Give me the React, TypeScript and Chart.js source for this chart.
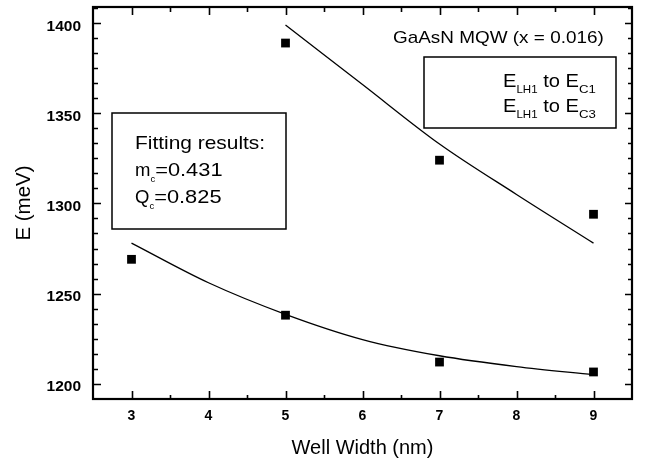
import React, { useEffect, useRef } from 'react';
import { Chart, registerables } from 'chart.js';

Chart.register(...registerables);

// ---- data ----
const WIDTH_C1 = [3, 5, 7, 9];
const ENERGY_C1 = [1269, 1238, 1212, 1206.5];
const WIDTH_C3 = [5, 7, 9];
const ENERGY_C3 = [1389, 1324, 1294];
const FIT_WIDTH_C1 = [3, 4, 5, 6, 7, 8, 9];
const FIT_ENERGY_C1 = [1278, 1256, 1238.5, 1224.5, 1215.5, 1209.5, 1205];
const FIT_WIDTH_C3 = [5, 6, 7, 8, 9];
const FIT_ENERGY_C3 = [1399, 1366, 1333, 1305, 1278];
const X_TICKS = [3, 4, 5, 6, 7, 8, 9];
const Y_TICKS = [1200, 1250, 1300, 1350, 1400];
const X_MINOR_STEP = 0.5;
const Y_MINOR_STEP = 50 / 6;

const FONT = "Arial, 'Liberation Sans', Helvetica, sans-serif";

function drawText(ctx: CanvasRenderingContext2D, s: string, x: number, y: number, size: number, sx = 1.15, weight = 'normal'): number {
  ctx.save();
  ctx.translate(x, y);
  ctx.scale(sx, 1);
  ctx.font = `${weight} ${size}px ${FONT}`;
  ctx.textAlign = 'left';
  ctx.textBaseline = 'alphabetic';
  ctx.fillStyle = '#000';
  ctx.fillText(s, 0, 0);
  const w = ctx.measureText(s).width * sx;
  ctx.restore();
  return w;
}

const framePlugin = {
  id: 'frameTicksAnnotations',
  afterDraw(chart: any) {
    const ctx: CanvasRenderingContext2D = chart.ctx;
    const { left, right, top, bottom } = chart.chartArea;
    const xs = chart.scales.x;
    const ys = chart.scales.y;
    ctx.save();
    ctx.strokeStyle = '#000';
    // ticks
    ctx.lineWidth = 1.6;
    ctx.beginPath();
    for (let v = xs.min; v <= xs.max + 1e-9; v += X_MINOR_STEP) {
      const px = Math.round(xs.getPixelForValue(v)) + 0.5;
      if (px <= left + 1 || px >= right - 1) continue;
      const major = Math.abs(v - Math.round(v)) < 1e-6;
      ctx.moveTo(px, bottom); ctx.lineTo(px, bottom - (major ? 8 : 4));
      ctx.moveTo(px, top); ctx.lineTo(px, top + (major ? 8 : 5));
    }
    const start = Math.ceil((ys.min - Y_TICKS[0]) / Y_MINOR_STEP);
    for (let k = start; ; k++) {
      const v = Y_TICKS[0] + k * Y_MINOR_STEP;
      if (v > ys.max) break;
      const py = Math.round(ys.getPixelForValue(v)) + 0.5;
      if (py <= top + 1 || py >= bottom - 1) continue;
      const major = k % 6 === 0;
      ctx.moveTo(left, py); ctx.lineTo(left + (major ? 8 : 5), py);
      ctx.moveTo(right, py); ctx.lineTo(right - (major ? 7 : 4), py);
    }
    ctx.stroke();
    // frame
    ctx.lineWidth = 2.2;
    ctx.strokeRect(left, top, right - left, bottom - top);

    // title annotation
    drawText(ctx, 'GaAsN MQW (x = 0.016)', 393, 43, 16.6, 1.14);

    // legend box
    ctx.lineWidth = 1.5;
    ctx.strokeRect(424, 57, 192, 71);
    const legendLines: [string, string][] = [['LH1', 'C1'], ['LH1', 'C3']];
    legendLines.forEach(([a, b], i) => {
      const by = 87 + i * 24.5;
      let x = 503;
      x += drawText(ctx, 'E', x, by, 17.5, 1.15);
      x += drawText(ctx, a, x, by + 6, 10.5, 1.1);
      x += drawText(ctx, ' to ', x, by, 17.5, 1.15);
      x += drawText(ctx, 'E', x, by, 17.5, 1.15);
      drawText(ctx, b, x, by + 6, 11, 1.2);
    });

    // fitting results box
    ctx.strokeRect(112, 113, 174, 116);
    drawText(ctx, 'Fitting results:', 135, 149, 18.5, 1.13);
    let x = 135;
    x += drawText(ctx, 'm', x, 176, 18.5, 1.0);
    x += drawText(ctx, 'c', x, 182, 9.5, 1.0);
    drawText(ctx, '=0.431', x, 176, 18.5, 1.18);
    x = 135;
    x += drawText(ctx, 'Q', x, 203, 18.5, 1.0);
    x += drawText(ctx, 'c', x, 209, 9.5, 1.0);
    drawText(ctx, '=0.825', x, 203, 18.5, 1.18);
    ctx.restore();
  },
};

export default function App() {
  const ref = useRef<HTMLCanvasElement | null>(null);
  useEffect(() => {
    if (!ref.current) return;
    const toPts = (xs: number[], ys: number[]) => xs.map((x, i) => ({ x, y: ys[i] }));
    const chart = new Chart(ref.current, {
      type: 'scatter',
      data: {
        datasets: [
          {
            label: 'fit C1', data: toPts(FIT_WIDTH_C1, FIT_ENERGY_C1), showLine: true,
            borderColor: '#000', borderWidth: 1.3, pointRadius: 0, cubicInterpolationMode: 'monotone', fill: false,
          },
          {
            label: 'fit C3', data: toPts(FIT_WIDTH_C3, FIT_ENERGY_C3), showLine: true,
            borderColor: '#000', borderWidth: 1.3, pointRadius: 0, cubicInterpolationMode: 'monotone', fill: false,
          },
          {
            label: 'E_LH1 to E_C1', data: toPts(WIDTH_C1, ENERGY_C1), showLine: false,
            pointStyle: 'rect', pointRadius: 6.2, backgroundColor: '#000', borderColor: '#000', borderWidth: 0,
          },
          {
            label: 'E_LH1 to E_C3', data: toPts(WIDTH_C3, ENERGY_C3), showLine: false,
            pointStyle: 'rect', pointRadius: 6.2, backgroundColor: '#000', borderColor: '#000', borderWidth: 0,
          },
        ],
      } as any,
      options: {
        animation: false,
        responsive: false,
        devicePixelRatio: 1,
        layout: { padding: { top: 7, right: 14, left: 0, bottom: 0 } },
        plugins: { legend: { display: false }, tooltip: { enabled: false } },
        scales: {
          x: {
            type: 'linear', min: 2.5, max: 9.5,
            grid: { display: false, drawTicks: false }, border: { display: false },
            afterBuildTicks: (s: any) => { s.ticks = X_TICKS.map((v) => ({ value: v })); },
            afterFit: (s: any) => { s.height = 65; s.paddingLeft = 0; s.paddingRight = 0; s.paddingTop = 0; s.paddingBottom = 0; },
            ticks: { color: '#000', padding: 9, maxRotation: 0, autoSkip: false, callback: (v: any) => String(v), font: { family: FONT, size: 14, weight: 'bold' } },
            title: { display: true, text: 'Well Width (nm)', color: '#000', font: { family: FONT, size: 20 }, padding: { top: 0, bottom: 4 } },
          },
          y: {
            type: 'linear', min: 1191.5, max: 1409,
            grid: { display: false, drawTicks: false }, border: { display: false },
            afterBuildTicks: (s: any) => { s.ticks = Y_TICKS.map((v) => ({ value: v })); },
            afterFit: (s: any) => { s.width = 93; s.paddingLeft = 0; s.paddingRight = 0; s.paddingTop = 0; s.paddingBottom = 0; },
            ticks: { color: '#000', padding: 12, labelOffset: 3, callback: (v: any) => String(v), font: { family: FONT, size: 15.5, weight: 'bold' } },
            title: { display: true, text: 'E (meV)', color: '#000', font: { family: FONT, size: 20.5 }, padding: { top: 12, bottom: 0 } },
          },
        },
      } as any,
      plugins: [framePlugin],
    });
    return () => chart.destroy();
  }, []);
  return (
    <div style={{ position: 'absolute', left: 0, top: 0, width: 646, height: 464, background: '#fff' }}>
      <canvas ref={ref} width={646} height={464} style={{ display: 'block' }} />
    </div>
  );
}
